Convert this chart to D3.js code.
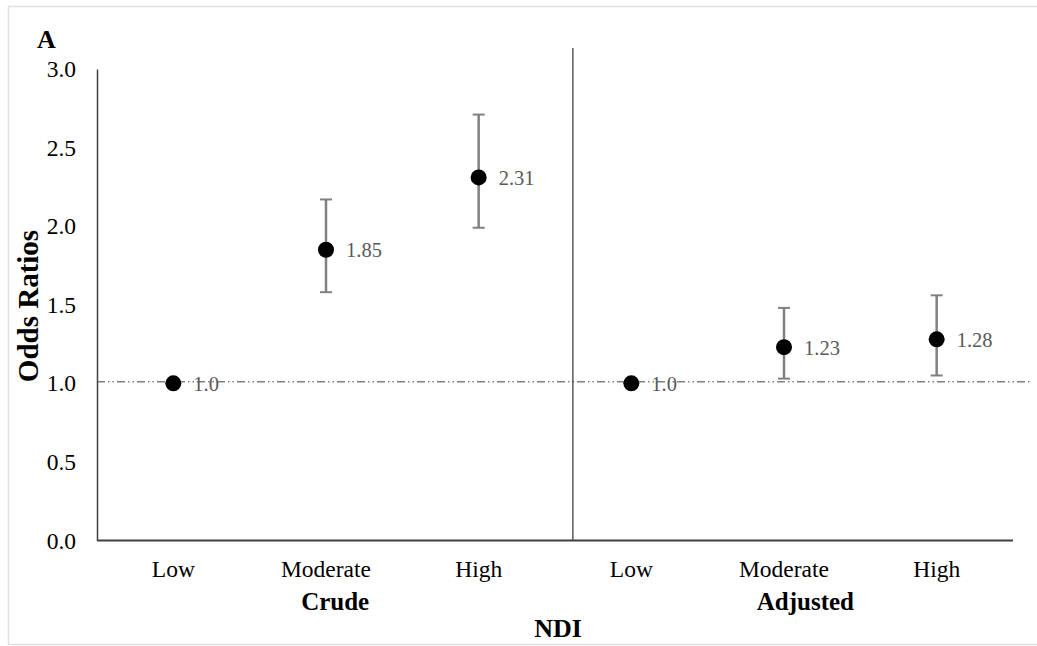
<!DOCTYPE html>
<html>
<head>
<meta charset="UTF-8">
<style>
  body { margin: 0; background: #fff; }
  text { font-family: "Liberation Serif", "Times New Roman", serif; }
</style>
</head>
<body>
<script src="https://d3js.org/d3.v7.min.js"></script>
<script>
var categories = ['Low', 'Moderate', 'High', 'Low', 'Moderate', 'High'];
var groups = ['Crude', 'Adjusted'];
var oddsRatios = [1.0, 1.85, 2.31, 1.0, 1.23, 1.28];
var ciLower = [null, 1.58, 1.99, null, 1.03, 1.05];
var ciUpper = [null, 2.17, 2.71, null, 1.48, 1.56];
var pointLabels = ['1.0', '1.85', '2.31', '1.0', '1.23', '1.28'];
var yTicks = [0, 0.5, 1.0, 1.5, 2.0, 2.5, 3.0];

var W = 1037, H = 646;
var svg = d3.select('body').append('svg').attr('width', W).attr('height', H);

// outer frame (right edge falls outside the picture)
svg.append('rect').attr('x', 8.5).attr('y', 6.5).attr('width', 1040).attr('height', 638)
    .attr('fill', 'none').attr('stroke', '#e0e0e0').attr('stroke-width', 1.5);

var x = d3.scaleLinear().domain([0, categories.length]).range([97, 1013]);
var y = d3.scaleLinear().domain([0, 3]).range([540.5, 69]);

// reference line at OR = 1
svg.append('line')
    .attr('x1', x(0)).attr('x2', x(6.11))
    .attr('y1', y(1) - 1.5).attr('y2', y(1) - 1.5)
    .attr('stroke', '#404040').attr('stroke-width', 1)
    .attr('stroke-dasharray', '8,3,1.5,3,1.5,3');

// y axis
var yAxis = d3.axisLeft(y).tickValues(yTicks).tickFormat(d3.format('.1f')).tickSize(0).tickPadding(21);
var gy = svg.append('g').attr('transform', 'translate(' + x(0) + ',0)').call(yAxis);
gy.select('.domain').attr('stroke', '#404040').attr('stroke-width', 1.5);
gy.selectAll('text').attr('font-size', 23.5).attr('fill', '#000')
    .attr('font-family', '"Liberation Serif", serif');

// x axis
var gx = svg.append('g').attr('transform', 'translate(0,' + y(0) + ')');
gx.append('line').attr('x1', x(0)).attr('x2', x(6)).attr('stroke', '#404040').attr('stroke-width', 2);
gx.selectAll('text.cat').data(categories).enter().append('text')
    .attr('class', 'cat')
    .attr('x', function(d, i) { return x(i + 0.5); })
    .attr('y', 36)
    .attr('text-anchor', 'middle')
    .attr('font-size', 23.5)
    .text(function(d) { return d; });

var groupPos = [1.56, 4.64];
gx.selectAll('text.grp').data(groups).enter().append('text')
    .attr('class', 'grp')
    .attr('x', function(d, i) { return x(groupPos[i]); })
    .attr('y', 69)
    .attr('text-anchor', 'middle')
    .attr('font-size', 25)
    .attr('font-weight', 'bold')
    .text(function(d) { return d; });

// divider between crude and adjusted
svg.append('line')
    .attr('x1', x(3.117)).attr('x2', x(3.117))
    .attr('y1', 48).attr('y2', y(0))
    .attr('stroke', '#404040').attr('stroke-width', 1.3);

// error bars
var bars = svg.append('g');
oddsRatios.forEach(function(v, i) {
    if (ciLower[i] == null) return;
    var cx = x(i + 0.5);
    bars.append('line').attr('x1', cx).attr('x2', cx).attr('y1', y(ciLower[i])).attr('y2', y(ciUpper[i]))
        .attr('stroke', '#808080').attr('stroke-width', 2.5);
    [ciLower[i], ciUpper[i]].forEach(function(c) {
        bars.append('line').attr('x1', cx - 6).attr('x2', cx + 6).attr('y1', y(c)).attr('y2', y(c))
            .attr('stroke', '#808080').attr('stroke-width', 2);
    });
});

// points
svg.selectAll('circle.pt').data(oddsRatios).enter().append('circle')
    .attr('class', 'pt')
    .attr('cx', function(d, i) { return x(i + 0.5); })
    .attr('cy', function(d) { return y(d); })
    .attr('r', 8)
    .attr('fill', '#000');

svg.selectAll('text.lbl').data(oddsRatios).enter().append('text')
    .attr('class', 'lbl')
    .attr('x', function(d, i) { return x(i + 0.5) + 20; })
    .attr('y', function(d) { return y(d) + 7.5; })
    .attr('font-size', 20.5)
    .attr('fill', '#595959')
    .text(function(d, i) { return pointLabels[i]; });

// axis titles
svg.append('text')
    .attr('transform', 'translate(38,306) rotate(-90)')
    .attr('text-anchor', 'middle')
    .attr('font-size', 29)
    .attr('font-weight', 'bold')
    .text('Odds Ratios');

svg.append('text')
    .attr('x', 558).attr('y', 637)
    .attr('text-anchor', 'middle')
    .attr('font-size', 26)
    .attr('font-weight', 'bold')
    .text('NDI');

svg.append('text')
    .attr('x', 37).attr('y', 48)
    .attr('font-size', 26)
    .attr('font-weight', 'bold')
    .text('A');
</script>
</body>
</html>
